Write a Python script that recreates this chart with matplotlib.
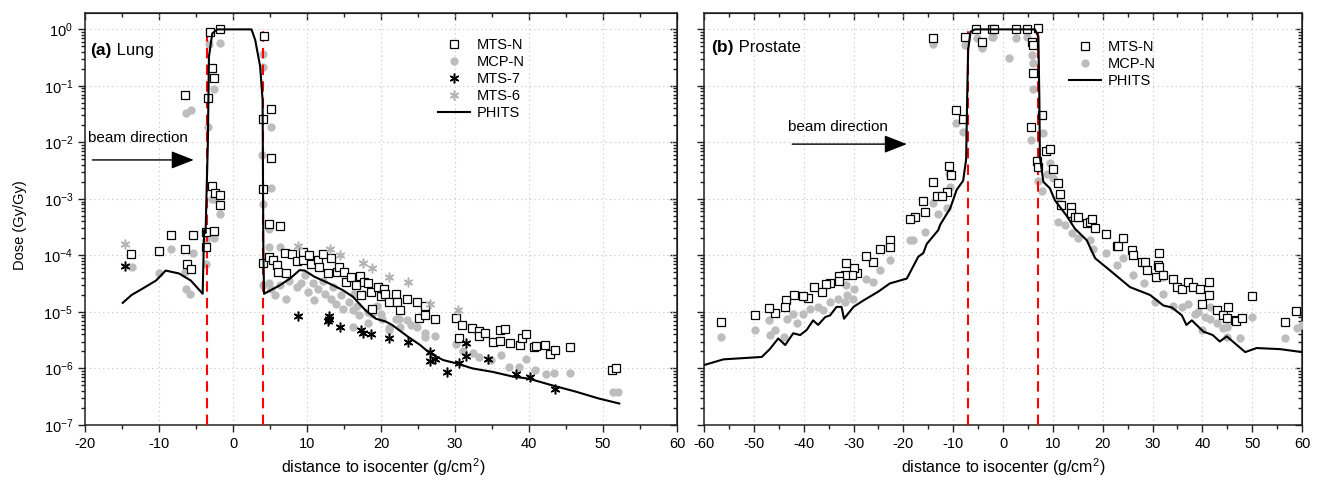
import numpy as np
import matplotlib
matplotlib.use("Agg")
import matplotlib.pyplot as plt
from matplotlib.ticker import MultipleLocator, LogLocator, NullFormatter

plt.rcParams['font.family'] = ['Liberation Sans', 'DejaVu Sans']
plt.rcParams['mathtext.fontset'] = 'custom'
plt.rcParams['mathtext.rm'] = 'Liberation Sans'
plt.rcParams['mathtext.it'] = 'Liberation Sans:italic'
plt.rcParams['mathtext.bf'] = 'Liberation Sans:bold'
plt.rcParams['axes.unicode_minus'] = False

# ---------------- (a) Lung ----------------
lung_mtsn_x = [-3.1, -1.7, -2.8, -2.6, -6.5, -3.4, -2.8, -2.4, -1.8, -1.8, -3.7, -2.6, -8.4, -5.4,
               -10.0, -6.5, -13.8, -6.2, -5.7, -3.7, 4.2, 5.2, 4.0, 5.1, 4.1, 4.8, 6.3,
               4.1, 4.8, 5.4, 5.9, 6.1, 7.0, 7.2, 8.0, 8.6, 9.5, 9.5, 10.3, 10.6, 11.5, 11.6,
               12.1, 12.9, 13.3, 14.1, 14.3, 15.0, 15.3, 15.9, 16.6, 17.1, 17.3, 17.7, 18.2,
               18.6, 18.8, 19.6, 20.0, 20.4, 20.6, 21.1, 22.0, 22.2, 22.6, 23.5, 24.9, 25.1,
               25.9, 26.0, 27.3, 30.2, 30.6, 30.9, 32.3, 33.3, 33.2, 34.1, 35.1, 36.1, 36.1,
               36.7, 37.4, 38.8, 39.1, 39.6, 40.7, 41.0, 42.2, 42.8, 43.5, 45.6, 51.2, 51.7]
lung_mtsn_y = [0.91, 1.0, 0.21, 0.14, 0.069, 0.060, 1.7e-3, 1.26e-3, 1.17e-3, 7.8e-4, 2.6e-4, 2.75e-4,
               2.3e-4, 2.3e-4, 1.2e-4, 1.3e-4, 1.05e-4, 7.2e-5, 5.8e-5, 1.4e-4, 0.76, 0.039, 0.026,
               5.4e-3, 1.5e-3, 3.6e-4, 3.3e-4,
               7.4e-5, 9.3e-5, 8.3e-5, 6.8e-5, 5.1e-5, 1.1e-4, 4.8e-5, 1.05e-4, 7.9e-5, 1.15e-4,
               8.3e-5, 1.02e-4, 7.2e-5, 8.3e-5, 6.2e-5, 1.05e-4, 4.9e-5, 8.9e-5, 5.1e-5, 6.3e-5,
               5.1e-5, 3.4e-5, 4.2e-5, 3.0e-5, 4.3e-5, 2.0e-5, 3.4e-5, 3.2e-5, 2.3e-5, 1.15e-5,
               2.8e-5, 1.9e-5, 2.5e-5, 2.1e-5, 1.5e-5, 2.1e-5, 1.5e-5, 1.07e-5, 1.7e-5, 1.5e-5,
               7.9e-6, 1.26e-5, 8.7e-6, 7.4e-6, 7.9e-6, 3.4e-6, 6.0e-6, 5.1e-6, 4.7e-6, 3.7e-6,
               4.3e-6, 3.0e-6, 3.1e-6, 4.8e-6, 4.9e-6, 2.8e-6, 2.6e-6, 3.4e-6, 4.0e-6, 2.4e-6,
               2.5e-6, 2.6e-6, 1.8e-6, 2.1e-6, 2.4e-6, 9.5e-7, 1.02e-6]

lung_mcpn_x = [-3.2, -1.7, -2.9, -2.6, -6.4, -5.7, -3.4, -2.8, -2.4, -1.8, -3.7, -2.6, -8.4,
               4.1, 4.1, 5.2, 3.9, 5.1, 4.1, 4.8, 6.3, -13.7, -10.0, -6.5, -6.4, -5.8, -5.4,
               -3.7, 4.8, 4.1, 4.9, 5.2, 5.7, 6.3, 7.2, 7.5, 8.6, 9.2, 9.7, 10.1, 10.8, 11.0,
               11.5, 12.1, 12.4, 13.3, 13.5, 13.9, 14.6, 14.8, 15.7, 16.2, 16.2, 16.4, 16.8,
               17.0, 17.5, 18.2, 18.2, 18.8, 19.5, 20.0, 20.2, 21.1, 21.1, 22.0, 22.4, 22.6,
               23.5, 24.0, 24.9, 26.0, 26.0, 27.3, 30.2, 31.1, 32.4, 33.3, 34.9, 36.2, 37.3,
               38.7, 39.6, 40.8, 42.3, 43.4, 45.6, 51.4, 52.0]
lung_mcpn_y = [0.56, 0.58, 0.14, 0.087, 0.033, 0.037, 0.019, 1.0e-3, 1.0e-3, 5.5e-4, 1.9e-4, 2.0e-4,
               1.3e-4, 0.36, 0.22, 0.019, 6.0e-3, 1.55e-3, 8.3e-4, 2.9e-4, 1.4e-4, 6.3e-5, 4.9e-5,
               5.1e-5, 2.5e-5, 2.1e-5, 1.1e-4, 7.2e-5, 1.4e-4, 3.0e-5, 3.3e-5, 2.6e-5, 2.0e-5,
               3.0e-5, 1.7e-5, 3.6e-5, 2.8e-5, 3.2e-5, 4.5e-5, 2.3e-5, 3.2e-5, 1.6e-5, 2.5e-5,
               3.6e-5, 2.1e-5, 1.7e-5, 2.8e-5, 1.4e-5, 2.0e-5, 1.15e-5, 1.5e-5, 1.07e-5, 5.5e-6,
               2.1e-5, 1.3e-5, 8.7e-6, 2.1e-5, 1.0e-5, 6.3e-6, 9.3e-6, 1.3e-5, 9.3e-6, 7.6e-6,
               4.8e-6, 5.1e-6, 7.6e-6, 7.6e-6, 5.5e-6, 7.1e-6, 5.9e-6, 5.5e-6, 4.2e-6, 3.6e-6,
               3.7e-6, 2.75e-6, 2.0e-6, 1.9e-6, 1.6e-6, 1.4e-6, 1.7e-6, 1.05e-6, 1.05e-6, 1.5e-6,
               9.3e-7, 8.1e-7, 8.3e-7, 8.3e-7, 3.8e-7, 3.8e-7]

lung_mts7_x = [-14.6, 8.8, 13.0, 12.9, 13.0, 14.5, 17.3, 17.5, 18.7, 21.1, 23.7, 26.6, 26.6,
               27.3, 28.9, 30.6, 31.5, 31.5, 34.4, 38.2, 40.1, 43.5]
lung_mts7_y = [6.5e-5, 8.5e-6, 8.5e-6, 6.9e-6, 7.6e-6, 5.5e-6, 4.8e-6, 4.2e-6, 4.1e-6, 3.4e-6,
               2.9e-6, 1.95e-6, 1.35e-6, 1.5e-6, 8.7e-7, 1.23e-6, 2.8e-6, 1.66e-6, 1.5e-6,
               8.1e-7, 7.1e-7, 4.3e-7]

lung_mts6_x = [-14.6, 8.8, 13.1, 14.5, 17.5, 18.8, 21.1, 23.7, 26.6, 30.4]
lung_mts6_y = [1.6e-4, 1.5e-4, 1.3e-4, 1.02e-4, 7.4e-5, 5.9e-5, 4.2e-5, 3.4e-5, 1.4e-5, 1.07e-5]

lung_phits_x = [-14.9, -13.7, -12.2, -10.4, -9.1, -7.3, -5.7, -4.1, -3.9, -3.7, -3.6, -3.4, -3.25,
                -2.8, -2.1, 2.5, 3.0, 3.67, 4.0, 4.1, 4.2, 6.3, 7.7, 9.0, 9.7, 11.0, 13.0,
                14.8, 16.2, 17.9, 19.3, 20.6, 21.5, 23.7, 25.3, 26.6, 28.4, 30.2, 32.4, 35.1,
                37.8, 40.0, 43.2, 46.3, 49.4, 52.2]
lung_phits_y = [1.45e-5, 2.0e-5, 2.6e-5, 3.6e-5, 5.4e-5, 4.8e-5, 3.6e-5, 2.1e-5, 2.8e-4, 2.5e-4,
                9.5e-4, 9.5e-3, 0.33, 0.85, 1.0, 1.0, 0.65, 0.22, 0.056, 1.3e-4, 2.1e-5, 2.95e-5,
                3.9e-5, 5.5e-5, 5.4e-5, 4.2e-5, 3.2e-5, 2.45e-5, 1.86e-5, 1.07e-5, 7.6e-6,
                6.8e-6, 5.9e-6, 3.6e-6, 2.6e-6, 1.86e-6, 1.41e-6, 1.23e-6, 1.0e-6, 8.7e-7,
                7.2e-7, 6.6e-7, 5.0e-7, 3.9e-7, 2.95e-7, 2.4e-7]
lung_edges = [-3.5, 4.0]

# ---------------- (b) Prostate ----------------
pros_mtsn_x = [-14.0, -7.7, -5.4, -4.3, -2.3, -9.4, -8.0, -10.8, -10.5, -14.0, -11.2, -13.3, -12.2,
               -16.0, -15.7, -17.7, -18.7, -22.7, -22.7, -24.7, -26.1, -27.5, -29.2, -29.9,
               -30.4, -31.6, -31.8, -33.0, -33.0, -34.8, -35.6, -36.4, -38.0, -39.1, -40.2,
               -41.9, -43.5, -43.8, -45.8, -47.0, -49.8, -56.5,
               -1.9, 2.7, 4.9, 7.1, 5.8, 6.1, 6.0, 5.6, 7.9, 8.6, 9.4, 6.8, 7.1, 10.0, 11.1,
               11.4, 11.7, 13.7, 13.7, 14.4, 15.1, 16.8, 17.4, 17.8, 18.5, 20.7, 22.8, 23.1,
               24.1, 25.9, 26.0, 27.8, 28.5, 28.8, 30.8, 31.1, 31.4, 31.4, 32.1, 34.2, 34.9,
               35.9, 37.2, 38.2, 39.5, 39.9, 41.4, 41.4, 42.9, 44.1, 45.0, 45.2, 46.6, 46.8,
               47.9, 49.9, 56.5, 58.8]
pros_mtsn_y = [0.69, 0.74, 1.0, 0.59, 1.0, 0.038, 0.026, 3.9e-3, 2.6e-3, 2.0e-3, 1.3e-3, 1.15e-3,
               1.15e-3, 9.3e-4, 5.9e-4, 4.7e-4, 4.4e-4, 1.9e-4, 1.4e-4, 1.3e-4, 7.8e-5, 9.8e-5,
               4.9e-5, 5.9e-5, 4.5e-5, 7.4e-5, 4.5e-5, 4.4e-5, 3.6e-5, 3.3e-5, 3.1e-5, 2.3e-5,
               2.75e-5, 1.8e-5, 1.9e-5, 2.0e-5, 1.66e-5, 1.2e-5, 9.5e-6, 1.17e-5, 8.7e-6, 6.6e-6,
               1.0, 1.0, 1.0, 1.04, 0.60, 0.52, 0.17, 0.019, 0.030, 7.1e-3, 7.8e-3, 4.6e-3,
               3.7e-3, 3.4e-3, 1.9e-3, 1.2e-3, 7.8e-4, 7.1e-4, 5.6e-4, 4.8e-4, 4.7e-4, 3.8e-4,
               3.9e-4, 4.5e-4, 3.0e-4, 2.4e-4, 1.5e-4, 1.5e-4, 2.0e-4, 1.23e-4, 1.0e-4, 7.8e-5,
               7.8e-5, 5.5e-5, 4.2e-5, 6.8e-5, 1.1e-4, 6.3e-5, 4.5e-5, 3.9e-5, 2.75e-5, 2.5e-5,
               3.4e-5, 2.75e-5, 2.5e-5, 1.4e-5, 3.4e-5, 2.0e-5, 1.1e-5, 8.7e-6, 7.9e-6, 1.23e-5,
               7.1e-6, 6.9e-6, 7.9e-6, 1.9e-5, 6.6e-6, 1.05e-5]

pros_mcpn_x = [-14.0, -7.7, -5.3, -4.3, -2.3, -9.4, -8.0, -10.8, -10.7, -14.0, -13.0, -11.3, -15.7,
               -18.1, -18.7, -22.7, -24.7, -26.1, -27.5, -29.8, -30.1, -31.4, -31.6, -31.8,
               -33.1, -34.7, -36.1, -37.1, -38.7, -40.1, -41.4, -42.1, -43.4, -43.9, -45.8,
               -46.8, -47.0, -49.8, -56.5,
               -2.1, 2.7, 4.8, 1.3, 5.8, 6.1, 6.0, 5.6, 8.1, 9.4, 7.0, 7.8, 8.8, 10.0, 11.3,
               11.1, 12.4, 13.8, 15.1, 17.4, 18.1, 20.7, 22.8, 24.1, 26.0, 28.2, 30.5, 32.2,
               32.2, 34.2, 35.9, 37.2, 38.5, 40.5, 41.5, 42.9, 44.9, 39.2, 41.5, 39.9, 44.2,
               45.0, 47.6, 49.9, 56.5, 58.9, 59.9]
pros_mcpn_y = [0.56, 0.52, 0.69, 0.46, 0.74, 0.022, 0.015, 2.8e-3, 1.6e-3, 8.5e-4, 5.5e-4, 6.8e-4,
               2.6e-4, 1.9e-4, 1.86e-4, 8.3e-5, 5.5e-5, 3.4e-5, 3.9e-5, 2.5e-5, 1.7e-5, 2.0e-5,
               3.0e-5, 1.5e-5, 1.7e-5, 1.5e-5, 1.07e-5, 1.23e-5, 1.15e-5, 9.3e-6, 6.3e-6,
               9.3e-6, 7.6e-6, 3.6e-6, 4.8e-6, 3.9e-6, 7.1e-6, 4.8e-6, 3.6e-6,
               0.74, 0.69, 0.74, 0.31, 0.35, 0.25, 0.087, 0.011, 0.0145, 4.3e-3, 2.1e-3, 1.4e-3,
               2.8e-3, 2.3e-3, 1.1e-3, 3.9e-4, 3.5e-4, 2.5e-4, 2.0e-4, 1.86e-4, 1.3e-4, 1.1e-4,
               6.8e-5, 8.9e-5, 4.5e-5, 3.2e-5, 1.5e-5, 2.1e-5, 4.2e-5, 1.3e-5, 1.23e-5, 1.4e-5,
               9.3e-6, 8.1e-6, 1.23e-5, 6.3e-6, 5.5e-6, 1.0e-5, 7.6e-6, 4.8e-6, 5.1e-6, 3.6e-6,
               3.4e-6, 8.1e-6, 3.5e-6, 5.1e-6, 5.9e-6]

pros_phits_x = [-60.0, -56.1, -48.4, -46.8, -45.1, -43.7, -42.1, -40.7, -39.4, -38.1, -37.1, -35.7,
                -34.7, -33.4, -32.4, -31.9, -30.0, -28.0, -25.0, -22.7, -19.3, -17.0, -16.0,
                -15.3, -13.0, -12.6, -10.6, -9.3, -8.0, -7.4, -7.2, -7.0, -6.5, -5.6, 6.4, 7.1,
                7.3, 7.4, 8.1, 9.4, 10.4, 12.8, 14.4, 16.8, 18.5, 21.4, 25.5, 29.5, 32.2, 33.9,
                35.9, 36.8, 37.9, 40.2, 42.1, 43.5, 44.9, 48.6, 50.9, 55.6, 60.0]
pros_phits_y = [1.15e-6, 1.45e-6, 1.6e-6, 2.2e-6, 3.4e-6, 2.6e-6, 4.2e-6, 3.9e-6, 4.8e-6, 7.1e-6,
                5.9e-6, 8.1e-6, 8.7e-6, 1.23e-5, 1.23e-5, 7.6e-6, 1.23e-5, 1.6e-5, 2.3e-5,
                3.2e-5, 3.9e-5, 9.5e-5, 1.1e-4, 1.6e-4, 2.8e-4, 3.5e-4, 6.8e-4, 1.45e-3, 2.1e-3,
                5.0e-3, 0.056, 0.43, 0.91, 1.0, 1.0, 0.74, 0.056, 5.6e-3, 2.0e-3, 1.55e-3, 9.5e-4,
                5.0e-4, 3.0e-4, 1.86e-4, 8.9e-5, 5.5e-5, 2.75e-5, 2.0e-5, 1.3e-5, 1.2e-5, 8.7e-6,
                5.9e-6, 7.1e-6, 4.5e-6, 3.9e-6, 3.0e-6, 3.7e-6, 1.95e-6, 2.3e-6, 2.2e-6, 1.95e-6]
pros_edges = [-7.0, 7.0]

grey = '#bdbdbd'
ylo, yhi = 1e-7, 1.95

fig = plt.figure(figsize=(13.19, 4.82), dpi=100)
axa = fig.add_axes([85/1319, 57/482, 592/1319, 412/482])
axb = fig.add_axes([704/1319, 57/482, 598/1319, 412/482])


def style_axis(ax, xlim, xmajor, ylabels):
    ax.set_yscale('log')
    ax.set_xlim(*xlim)
    ax.set_ylim(ylo, yhi)
    ax.xaxis.set_major_locator(MultipleLocator(xmajor))
    ax.xaxis.set_minor_locator(MultipleLocator(xmajor / 2))
    ax.yaxis.set_major_locator(LogLocator(base=10, numticks=20))
    ax.yaxis.set_minor_locator(LogLocator(base=10, subs=np.arange(2, 10), numticks=20))
    ax.yaxis.set_minor_formatter(NullFormatter())
    if not ylabels:
        ax.yaxis.set_major_formatter(NullFormatter())
    ax.tick_params(which='both', direction='out', top=False, right=False,
                   labelsize=10.5, width=1, color='#222222')
    ax.tick_params(which='major', length=5)
    ax.tick_params(which='minor', length=3)
    ax.grid(True, which='major', linestyle=(0, (1, 3)), color='#c4c4c4', linewidth=0.8)
    for s in ax.spines.values():
        s.set_linewidth(1.1)
        s.set_color('#222222')
    # mirrored ticks pointing inward on top / right
    sx = ax.secondary_xaxis('top')
    sx.xaxis.set_major_locator(MultipleLocator(xmajor))
    sx.xaxis.set_minor_locator(MultipleLocator(xmajor / 2))
    sx.tick_params(which='both', direction='in', labeltop=False, width=1, color='#222222')
    sx.tick_params(which='major', length=5)
    sx.tick_params(which='minor', length=3)
    sy = ax.secondary_yaxis('right')
    sy.yaxis.set_major_locator(LogLocator(base=10, numticks=20))
    sy.yaxis.set_minor_locator(LogLocator(base=10, subs=np.arange(2, 10), numticks=20))
    sy.yaxis.set_major_formatter(NullFormatter())
    sy.yaxis.set_minor_formatter(NullFormatter())
    sy.tick_params(which='both', direction='in', width=1, color='#222222')
    sy.tick_params(which='major', length=5)
    sy.tick_params(which='minor', length=3)


style_axis(axa, (-20, 60), 10, True)
style_axis(axb, (-60, 60), 10, False)

dash = (0, (5, 3))
leg_kw = dict(loc='upper left', frameon=False, fontsize=10.5, handlelength=2.2,
              handletextpad=0.45, labelspacing=0.22, borderpad=0.2)

# panel (a)
axa.vlines(lung_edges, ylo, 1.0, colors='red', linestyles=dash, linewidth=1.5, zorder=3.5)
axa.plot(lung_mcpn_x, lung_mcpn_y, 'o', ms=6, color=grey, mec='none', label='MCP-N', zorder=3)
axa.plot(lung_mtsn_x, lung_mtsn_y, 's', ms=5.5, mfc='white', mec='black', mew=0.9,
         label='MTS-N', zorder=4)
axa.plot(lung_mts7_x, lung_mts7_y, ls='none', marker=(6, 2, 0), ms=7, color='black', mew=1.1,
         label='MTS-7', zorder=5)
axa.plot(lung_mts6_x, lung_mts6_y, ls='none', marker=(6, 2, 0), ms=7, color='#b3b3b3', mew=1.1,
         label='MTS-6', zorder=5)
axa.plot(lung_phits_x, lung_phits_y, '-', color='black', lw=1.5, label='PHITS', zorder=6)

h, l = axa.get_legend_handles_labels()
order = [l.index(k) for k in ['MTS-N', 'MCP-N', 'MTS-7', 'MTS-6', 'PHITS']]
axa.legend([h[i] for i in order], [l[i] for i in order],
           bbox_to_anchor=(0.579, 0.965), **leg_kw)

ta = axa.text(-19.3, 10**-0.45, '(a)', fontsize=12.5, fontweight='bold')
axa.annotate(' Lung', xy=(1, 0), xycoords=ta, va='bottom', fontsize=12)
axa.text(-19.6, 10**-1.92, 'beam direction', fontsize=11, va='center')
axa.annotate('', xy=(-5.3, 10**-2.31), xytext=(-19.0, 10**-2.31),
             arrowprops=dict(arrowstyle='-|>,head_length=1.4,head_width=0.55', color='black',
                             lw=1.0, shrinkA=0, shrinkB=0))

# panel (b)
axb.vlines(pros_edges, ylo, 1.0, colors='red', linestyles=dash, linewidth=1.5, zorder=3.5)
axb.plot(pros_mcpn_x, pros_mcpn_y, 'o', ms=6, color=grey, mec='none', label='MCP-N', zorder=3)
axb.plot(pros_mtsn_x, pros_mtsn_y, 's', ms=5.5, mfc='white', mec='black', mew=0.9,
         label='MTS-N', zorder=4)
axb.plot(pros_phits_x, pros_phits_y, '-', color='black', lw=1.5, label='PHITS', zorder=6)

h, l = axb.get_legend_handles_labels()
order = [l.index(k) for k in ['MTS-N', 'MCP-N', 'PHITS']]
axb.legend([h[i] for i in order], [l[i] for i in order],
           bbox_to_anchor=(0.593, 0.96), **leg_kw)

tb = axb.text(-58.5, 10**-0.40, '(b)', fontsize=12.5, fontweight='bold')
axb.annotate(' Prostate', xy=(1, 0), xycoords=tb, va='bottom', fontsize=12)
axb.text(-43.1, 10**-1.73, 'beam direction', fontsize=11, va='center')
axb.annotate('', xy=(-19.3, 10**-2.03), xytext=(-42.3, 10**-2.03),
             arrowprops=dict(arrowstyle='-|>,head_length=1.4,head_width=0.55', color='black',
                             lw=1.0, shrinkA=0, shrinkB=0))

fig.text(20/1319, 1 - 225/482, 'Dose (Gy/Gy)', rotation=90, ha='center', va='center', fontsize=10.5)
fig.text(383/1319, 1 - 467/482, 'distance to isocenter (g/cm$^2$)', ha='center', va='center',
         fontsize=11.5)
fig.text(1003/1319, 1 - 467/482, 'distance to isocenter (g/cm$^2$)', ha='center', va='center',
         fontsize=11.5)

fig.savefig('out.png', dpi=100)
